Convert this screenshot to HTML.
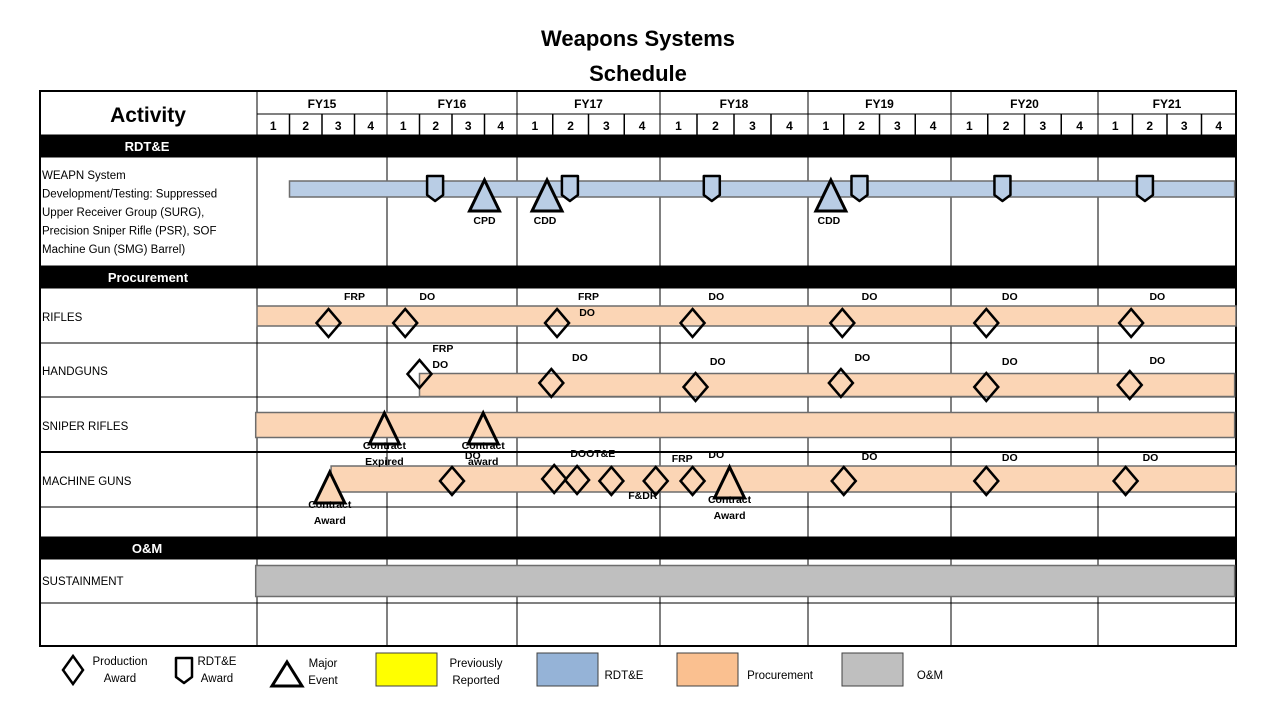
<!DOCTYPE html>
<html><head><meta charset="utf-8">
<style>
html,body{margin:0;padding:0;background:#fff;}
svg{display:block;font-family:"Liberation Sans",sans-serif;}
</style></head>
<body>
<svg id="chart" width="1280" height="720" viewBox="0 0 1280 720" xmlns="http://www.w3.org/2000/svg">
<text x="638" y="46" text-anchor="middle" font-size="22" font-weight="bold">Weapons Systems</text>
<text x="638" y="81" text-anchor="middle" font-size="22" font-weight="bold">Schedule</text>
<g id="grid"></g>
<g id="marks"></g>
<g id="legend"></g>
</svg>
<script>
// ---- data ----
const fiscalYears = ["FY15","FY16","FY17","FY18","FY19","FY20","FY21"];
const quarterLabels = ["1","2","3","4"];
// bars: [row, start (fiscal year units), end]
const barRows = ["WEAPN","RIFLES","HANDGUNS","SNIPER","MG","SUSTAIN"];
const barStarts = [15.25, 15.0, 16.25, 14.99, 15.57, 14.99];
const barEnds   = [21.99, 22.0, 21.99, 21.99, 22.0, 21.99];
// RDT&E award shields
const shieldTimes = [16.37, 17.37, 18.35, 19.36, 20.35, 21.34];
// major event triangles: time, row, label
const triTimes  = [16.75, 17.21, 19.16, 15.98, 16.74, 15.56, 18.47];
const triRows   = ["WEAPN","WEAPN","WEAPN","SNIPER","SNIPER","MG","MG"];
const triLabels = ["CPD","CDD","CDD","Contract|Expired","Contract|award","Contract|Award","Contract|Award"];
// production award diamonds: time, row
const diaTimes = [15.55,16.14,17.28,18.22,19.24,20.24,21.24,
                  16.25,17.24,18.24,19.23,20.24,21.23,
                  16.5,17.26,17.42,17.66,17.97,18.22,19.25,20.24,21.2];
const diaRows  = ["RIFLES","RIFLES","RIFLES","RIFLES","RIFLES","RIFLES","RIFLES",
                  "HANDGUNS","HANDGUNS","HANDGUNS","HANDGUNS","HANDGUNS","HANDGUNS",
                  "MG","MG","MG","MG","MG","MG","MG","MG","MG"];
const diaDy    = [0,0,0,0,0,0,0, -9,0,4,0,4,2, 0,-2,-1,0,0,0,0,0,0];
// annotation labels: time, y, text
const noteTimes = [15.75,16.31,17.5,17.49,18.38,19.43,20.4,21.43,
                   16.43,16.41,17.44,18.39,19.38,20.4,21.43,
                   16.66,17.53,17.88,18.15,18.38,19.43,20.4,21.38];
const noteYs    = [300,300,300,316,300,300,300,300,
                   352,368,361,365,361,365,364,
                   459,457,499,462,458,460,461,461];
const noteTexts = ["FRP","DO","FRP","DO","DO","DO","DO","DO",
                   "FRP","DO","DO","DO","DO","DO","DO",
                   "DO","DOOT&E","F&DR","FRP","DO","DO","DO","DO"];
const rowLabels = ["RIFLES","HANDGUNS","SNIPER RIFLES","MACHINE GUNS","SUSTAINMENT"];

// ---- layout ----
const yearEdges = [257,387,517,660,808,951,1098,1236];
function xAt(t){
  const i = Math.max(0, Math.min(6, Math.floor(t-15)));
  return yearEdges[i] + (t-15-i)*(yearEdges[i+1]-yearEdges[i]);
}
const rowY = {WEAPN:189, RIFLES:316, HANDGUNS:385, SNIPER:425, MG:479, SUSTAIN:581};
const rowH = {WEAPN:16, RIFLES:20, HANDGUNS:23, SNIPER:25, MG:26, SUSTAIN:31};
const barFill = {WEAPN:"#b9cde5",RIFLES:"#fbd5b5",HANDGUNS:"#fbd5b5",SNIPER:"#fbd5b5",MG:"#fbd5b5",SUSTAIN:"#bfbfbf"};
const NS="http://www.w3.org/2000/svg";
function mk(parent, tag, attrs, text){
  const e=document.createElementNS(NS,tag);
  for(const k in attrs) e.setAttribute(k,attrs[k]);
  if(text!==undefined) e.textContent=text;
  parent.appendChild(e); return e;
}
const grid=document.getElementById('grid'), marks=document.getElementById('marks'), legend=document.getElementById('legend');

[114,135,157,266,288,343,397,507,537,559,603].forEach(y=>{
  const l=mk(grid,'line',{x1:(y===114)?257:40,x2:1236,y1:y,y2:y,stroke:'#000','stroke-width':1});
  
  
});
const thick=mk(grid,'line',{x1:40,x2:1236,y1:452,y2:452,stroke:'#000','stroke-width':2});


yearEdges.forEach((x,i)=>{
  const l=mk(grid,'line',{x1:x,x2:x,y1:91,y2:646,stroke:'#000','stroke-width':1});
  
  
});
fiscalYears.forEach((fy,i)=>{
  const x0=yearEdges[i], x1=yearEdges[i+1];
  const t=mk(grid,'text',{x:(x0+x1)/2,y:108,'text-anchor':'middle','font-size':12,'font-weight':'bold'},fy);
  
  
  quarterLabels.forEach((q,j)=>{
    const w=(x1-x0)/4;
    if(j>0){
      const l=mk(grid,'line',{x1:x0+j*w,x2:x0+j*w,y1:114,y2:135,stroke:'#000','stroke-width':1.5});
      
      
    }
    const qt=mk(grid,'text',{x:x0+j*w+w/2,y:130,'text-anchor':'middle','font-size':12,'font-weight':'bold'},q);
    
    
  });
});
[[135,157,"RDT&E",147],[266,288,"Procurement",148],[537,559,"O&M",147]].forEach(s=>{
  const r=mk(grid,'rect',{x:40,y:s[0],width:1196,height:s[1]-s[0],fill:'#000'});
  
  
  const t=mk(grid,'text',{x:s[3],y:s[0]+16,'text-anchor':'middle','font-size':13,'font-weight':'bold',fill:'#fff'},s[2]);
  
  
});
const ob=mk(grid,'rect',{x:40,y:91,width:1196,height:555,fill:'none',stroke:'#000','stroke-width':2});


const act=mk(grid,'text',{x:148,y:122,'text-anchor':'middle','font-size':21,'font-weight':'bold'},'Activity');


["WEAPN System","Development/Testing: Suppressed","Upper Receiver Group (SURG),","Precision Sniper Rifle (PSR), SOF","Machine Gun (SMG) Barrel)"].forEach((s,i)=>{
  const t=mk(grid,'text',{x:42,y:179+i*18.5,'font-size':11.5},s);
  
  
});
[[321,"RIFLES"],[375,"HANDGUNS"],[430,"SNIPER RIFLES"],[485,"MACHINE GUNS"],[585,"SUSTAINMENT"]].forEach((r,i)=>{
  const t=mk(grid,'text',{x:42,y:r[0],'font-size':11.5},rowLabels[i]);
  
  
});

barRows.forEach((r,i)=>{
  const x0=xAt(barStarts[i]), x1=xAt(barEnds[i]);
  const b=mk(marks,'rect',{x:x0,y:rowY[r]-rowH[r]/2,width:x1-x0,height:rowH[r],fill:barFill[r],stroke:'#6d6d6d','stroke-width':1.5});
  
  
});
function diamond(g,cx,cy,w,h,fill){
  return mk(g,'polygon',{points:`${cx},${cy-h/2} ${cx+w/2},${cy} ${cx},${cy+h/2} ${cx-w/2},${cy}`,fill:fill,stroke:'#000','stroke-width':2.5});
}
function shield(g,cx,top,fill){
  return mk(g,'path',{d:`M${cx-8},${top} H${cx+8} V${top+19} L${cx},${top+25} L${cx-8},${top+19} Z`,fill:fill,stroke:'#000','stroke-width':2.5,'stroke-linejoin':'round'});
}
function triangle(g,cx,top,w,h,fill){
  return mk(g,'polygon',{points:`${cx},${top} ${cx+w/2},${top+h} ${cx-w/2},${top+h}`,fill:fill,stroke:'#000','stroke-width':3});
}
shieldTimes.forEach(t=>{
  const s=shield(marks,xAt(t),176,'#b9cde5');
  
  
});
const triTop={WEAPN:180,SNIPER:413,MG:467};
triTimes.forEach((t,i)=>{
  const r=triRows[i];
  let top=triTop[r];
  if(r==='MG' && i===5) top=472;
  const fill = r==='WEAPN' ? '#b9cde5' : (r==='MG' ? '#fbd5b5' : 'none');
  const tr=triangle(marks,xAt(t),top,30,31,fill);
  
  
  const parts=triLabels[i].split('|');
  parts.forEach((p,k)=>{
    const ly = r==='WEAPN' ? top+44 : top+36+k*16;
    const lt=mk(marks,'text',{x:xAt(t)+(r==='WEAPN'&&i>0?-2:0),y:ly,'text-anchor':'middle','font-size':10.5,'font-weight':'bold'},p);
    
    
  });
});
diaTimes.forEach((t,i)=>{
  const r=diaRows[i];
  const cy=(r==='RIFLES'?323:(r==='HANDGUNS'?383:481))+diaDy[i];
  const d=diamond(marks,xAt(t),cy,24,28,'none');
  
  
});
noteTimes.forEach((t,i)=>{
  const n=mk(marks,'text',{x:xAt(t),y:noteYs[i],'text-anchor':'middle','font-size':10.5,'font-weight':'bold'},noteTexts[i]);
  
  
});

const ld=diamond(legend,73,670,20,28,'none');


const ls=shield(legend,184,658,'none');


const lt=triangle(legend,287,662,30,24,'none');


[[120,665,"Production"],[120,682,"Award"],[217,665,"RDT&E"],[217,682,"Award"],[323,667,"Major"],[323,684,"Event"],
 [476,667,"Previously"],[476,684,"Reported"],[624,679,"RDT&E"],[780,679,"Procurement"],[930,679,"O&M"]].forEach(a=>{
  const t=mk(legend,'text',{x:a[0],y:a[1],'text-anchor':'middle','font-size':11.5},a[2]);
  
  
});
[[376,'#ffff00'],[537,'#95b3d7'],[677,'#fac090'],[842,'#bfbfbf']].forEach(a=>{
  const r=mk(legend,'rect',{x:a[0],y:653,width:61,height:33,fill:a[1],stroke:'#404040','stroke-width':1});
  
  
});
</script>
</body></html>
